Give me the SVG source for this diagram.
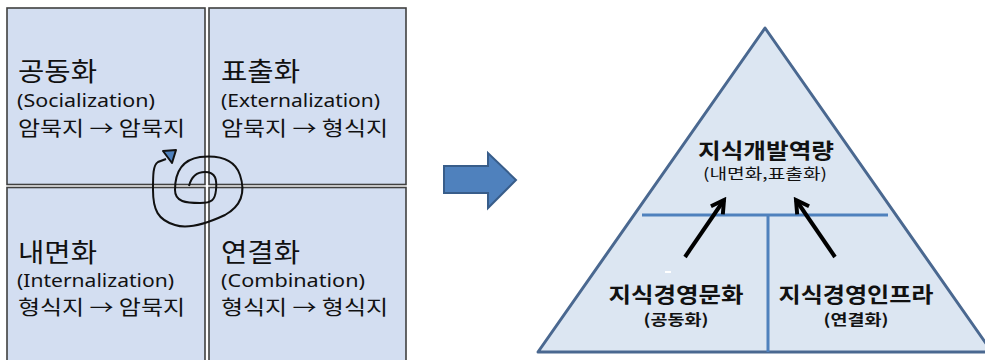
<svg xmlns="http://www.w3.org/2000/svg" width="985" height="360" viewBox="0 0 985 360">
<defs>
<style>
.q{fill:#D3DEF1;stroke:#404040;stroke-width:1.6}
.t{font-family:"Noto Sans CJK KR","Noto Sans",sans-serif;fill:#111}
.h{font-size:26px}
.e{font-size:18px;font-family:"Noto Sans","Noto Sans CJK KR",sans-serif}
.k{font-size:20px}
.b{font-weight:bold;font-size:21px;text-anchor:middle}
.s{font-size:15px;text-anchor:middle}
</style>
<marker id="ah" viewBox="0 0 10 10" refX="8" refY="5" markerWidth="4.5" markerHeight="4.5" orient="auto" markerUnits="strokeWidth">
<path d="M1 1 L8 5 L1 9" fill="none" stroke="#000" stroke-width="2.2"/>
</marker>
</defs>
<rect width="985" height="360" fill="#fff"/>
<g id="socialization">
<rect class="q" x="7" y="8" width="198" height="176.5"/>
<text class="t h" x="18" y="81" textLength="79" lengthAdjust="spacingAndGlyphs">공동화</text>
<text class="t e" x="17" y="107" textLength="138" lengthAdjust="spacingAndGlyphs">(Socialization)</text>
<text class="t k" x="18" y="136" textLength="167" lengthAdjust="spacingAndGlyphs">암묵지 → 암묵지</text>
</g>
<g id="externalization">
<rect class="q" x="209" y="8" width="197" height="176.5"/>
<text class="t h" x="221" y="81" textLength="79" lengthAdjust="spacingAndGlyphs">표출화</text>
<text class="t e" x="221" y="107" textLength="159" lengthAdjust="spacingAndGlyphs">(Externalization)</text>
<text class="t k" x="221" y="136" textLength="167" lengthAdjust="spacingAndGlyphs">암묵지 → 형식지</text>
</g>
<g id="internalization">
<rect class="q" x="7" y="187.5" width="198" height="180"/>
<text class="t h" x="18" y="262" textLength="79" lengthAdjust="spacingAndGlyphs">내면화</text>
<text class="t e" x="17" y="287" textLength="157" lengthAdjust="spacingAndGlyphs">(Internalization)</text>
<text class="t k" x="18" y="315" textLength="167" lengthAdjust="spacingAndGlyphs">형식지 → 암묵지</text>
</g>
<g id="combination">
<rect class="q" x="209" y="187.5" width="197" height="180"/>
<text class="t h" x="221" y="262" textLength="79" lengthAdjust="spacingAndGlyphs">연결화</text>
<text class="t e" x="221" y="287" textLength="144" lengthAdjust="spacingAndGlyphs">(Combination)</text>
<text class="t k" x="221" y="315" textLength="167" lengthAdjust="spacingAndGlyphs">형식지 → 형식지</text>
</g>
<g id="spiral">
<path d="M189 186 C191 178 195 172 205 172 C216 172 217 180 216 190 C215 200 212 203 200 203 C186 203 175 202 175 190 C175 175 180 160 200 157 C220 155 235 160 240 175 C245 190 243 205 225 215 C210 222 190 230 175 225 C158 220 153 210 153 190 C153 175 153 165 158 162 L166 159" fill="none" stroke="#111" stroke-width="2"/>
<path d="M163 151 L176 150 L172 163 Z" fill="#4F81BD" stroke="#111" stroke-width="2" stroke-linejoin="round"/>
</g>
<g id="big-arrow">
<path d="M444 166 H488 V153 L516 180 L488 208 V193 H444 Z" fill="#4F81BD" stroke="#385D8A" stroke-width="2"/>
</g>
<g id="pyramid">
<path d="M765 28 L992 352 L538 352 Z" fill="#DCE6F2" stroke="#4A6890" stroke-width="3" stroke-linejoin="round"/>
<line x1="642" y1="215" x2="888" y2="215" stroke="#4F81BD" stroke-width="3"/>
<line x1="768" y1="215" x2="768" y2="352" stroke="#4F81BD" stroke-width="3"/>
<rect x="665" y="271" width="6" height="2" fill="#fff"/>
</g>
<g id="top-node">
<text class="t b" x="766" y="158" textLength="136" lengthAdjust="spacingAndGlyphs">지식개발역량</text>
<text class="t s" x="765" y="179" textLength="124" lengthAdjust="spacingAndGlyphs">(내면화,표출화)</text>
</g>
<g id="culture-node">
<text class="t b" x="676" y="302" textLength="135" lengthAdjust="spacingAndGlyphs">지식경영문화</text>
<text class="t s" x="676" y="325" font-weight="bold" textLength="65" lengthAdjust="spacingAndGlyphs">(공동화)</text>
</g>
<g id="infra-node">
<text class="t b" x="856" y="302" textLength="155" lengthAdjust="spacingAndGlyphs">지식경영인프라</text>
<text class="t s" x="856" y="325" font-weight="bold" textLength="65" lengthAdjust="spacingAndGlyphs">(연결화)</text>
</g>
<g id="connectors">
<line x1="685" y1="257" x2="724" y2="200" stroke="#000" stroke-width="4" marker-end="url(#ah)"/>
<line x1="835" y1="257" x2="796" y2="200" stroke="#000" stroke-width="4" marker-end="url(#ah)"/>
</g>
</svg>
